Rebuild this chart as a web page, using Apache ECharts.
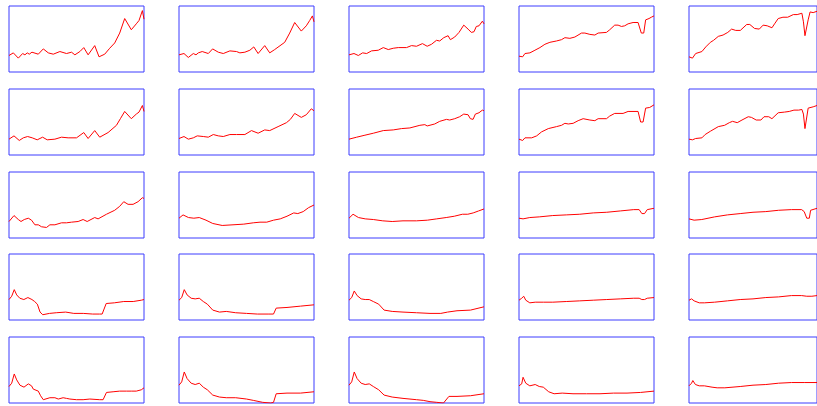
<!DOCTYPE html>
<html><head><meta charset="utf-8">
<script src="https://cdn.jsdelivr.net/npm/echarts@6/dist/echarts.min.js"></script>
<style>html,body{margin:0;padding:0;background:#fff}#c{width:817px;height:406px}</style>
</head><body><div id="c"></div>
<script>
// each series: [t (0..100 along the panel), value (0..100 of panel height)]
const r1c1 = [[0,25],[3.2,29],[6.9,21],[10.1,28],[11.8,26],[13.5,29],[15.0,27],[17.0,30],[21.7,27],[25.4,35],[29.1,29],[32.8,27],[37.7,31],[42.6,28],[46.3,30],[48.8,26],[52.5,31],[55.4,37],[58.6,26],[63.5,40],[66.7,23],[70.9,27],[74.6,36],[78.3,44],[82.0,59],[85.7,81],[90.6,64],[94.3,73],[96.3,78],[98.8,93],[100,80]];
const r1c2 = [[0,26],[3.7,28],[6.9,22],[10.6,28],[12.6,26],[14.3,29],[17.2,31],[21.7,28],[24.9,35],[29.1,30],[32.8,28],[37.7,32],[42.6,31],[45.1,29],[48.8,30],[52.5,33],[55.4,38],[58.6,28],[63.5,40],[67.2,29],[70.9,34],[78.3,45],[82.0,59],[85.7,75],[90.6,62],[94.3,70],[96.8,78],[98.8,85],[100,76]];
const r1c3 = [[0,26],[3.7,28],[6.9,25],[10.1,29],[13.1,28],[16.7,32],[21.7,33],[25.4,37],[29.1,34],[32.8,36],[36.5,37],[42.6,37],[46.3,40],[50.0,39],[54.4,43],[57.9,39],[61.1,42],[64.8,48],[67.2,47],[70.2,52],[73.4,55],[75.1,49],[78.3,53],[81.5,60],[85.0,71],[88.2,65],[90.6,60],[92.6,61],[94.3,69],[96.3,70],[98.8,77],[100,73]];
const r1c4 = [[0,24],[2.7,23],[4.4,28],[8.1,29],[11.8,33],[15.5,37],[19.2,42],[22.9,45],[27.8,47],[31.5,49],[34.0,52],[37.7,51],[41.4,53],[46.3,59],[48.8,59],[52.5,57],[56.2,56],[58.6,59],[64.8,60],[67.2,64],[70.9,71],[73.4,71],[75.9,69],[78.3,70],[80.8,73],[84.5,75],[88.2,75],[89.4,74],[90.6,59],[92.4,59],[93.8,79],[96.3,81],[98.0,83],[100,85]];
const r1c5 = [[0,23],[2.7,21],[5.2,28],[10.1,31],[13.1,38],[16.7,45],[19.2,48],[22.9,54],[26.6,56],[30.3,60],[33.3,65],[36.5,63],[40.1,63],[45.1,72],[47.5,72],[51.2,66],[54.9,65],[57.9,71],[61.1,70],[64.8,67],[67.2,74],[69.7,81],[73.4,83],[77.1,83],[81.5,87],[84.5,87],[88.2,89],[89.4,76],[90.6,55],[91.9,55],[93.1,79],[94.6,91],[97,90],[100,92]];

const r2c1 = [[0,24],[3.7,29],[7.6,22],[10.6,26],[13.8,28],[17.2,26],[20.9,23],[24.9,27],[28.3,23],[34.0,24],[38.9,27],[43.8,26],[50.0,26],[55.4,34],[58.6,25],[63.5,37],[67.2,27],[73.4,34],[79.6,45],[82.5,55],[85.7,66],[90.6,55],[94.3,62],[96.3,65],[98.8,75],[100,66]];
const r2c2 = [[0,25],[3.7,28],[6.9,24],[10.6,26],[13.5,29],[18.0,28],[21.7,27],[25.4,31],[29.1,29],[32.8,28],[37.7,31],[42.6,31],[48.8,31],[53.7,37],[58.6,33],[63.5,38],[67.2,37],[73.4,43],[79.6,49],[82.5,54],[85.7,63],[90.6,57],[94.3,61],[98.0,70],[100,67]];
const r2c3 = [[0,24],[5.7,27],[11.8,30],[18.0,33],[25.4,37],[32.8,38],[38.9,40],[45.1,41],[52.5,45],[56.2,46],[57.9,44],[63.5,47],[67.2,51],[72.2,54],[74.6,53],[78.3,55],[82.0,58],[85.0,62],[88.2,61],[89.9,55],[91.9,54],[93.6,62],[96.3,64],[98.8,68],[100,67]];
const r2c4 = [[0,24],[2.7,22],[4.4,26],[9.4,26],[13.1,29],[16.7,35],[21.7,40],[27.8,43],[31.5,45],[34.0,48],[36.5,47],[40.1,48],[43.8,52],[47.5,55],[52.5,53],[56.2,52],[58.6,55],[64.8,55],[67.2,59],[70.9,63],[77.1,63],[80.8,66],[88.2,66],[90.1,50],[91.9,50],[93.8,71],[96.8,72],[100,76]];
const r2c5 = [[0,24],[2.7,23],[5.2,25],[10.1,26],[12.6,31],[16.7,36],[22.9,43],[27.8,45],[31.5,49],[34.0,51],[37.7,49],[41.4,53],[46.3,58],[48.8,57],[52.5,53],[56.2,53],[58.6,58],[62.3,58],[64.8,55],[69.7,64],[74.6,65],[78.3,66],[82.0,68],[85.7,68],[88.2,69],[89.4,62],[90.6,40],[91.9,40],[93.1,71],[94.6,72],[97,73],[100,75]];

const r3c1 = [[0,25],[3.7,34],[6.9,28],[8.9,25],[11.3,28],[14.3,30],[16.7,27],[19.2,20],[21.7,20],[24.1,17],[27.8,16],[30.3,20],[34.0,20],[38.9,23],[42.6,23],[46.3,24],[51.2,25],[54.9,28],[57.9,25],[63.5,31],[66.0,29],[72.2,36],[78.3,42],[82.0,48],[85.0,55],[88.2,51],[91.9,51],[95.6,55],[98.8,61],[100,60]];
const r3c2 = [[0,30],[3,35],[7,31],[11,30],[15,31],[20,27],[25,22],[32,19],[40,20],[48,21],[55,23],[60,24],[65,24],[70,27],[75,29],[80,33],[85,38],[88,37],[92,40],[96,46],[100,50]];
const r3c3 = [[0,30],[3,36],[7,31],[12,29],[18,28],[25,26],[32,25],[40,26],[50,26],[58,27],[65,29],[72,31],[78,33],[84,36],[88,36],[92,38],[96,41],[100,44]];
const r3c4 = [[0,30],[3,29],[8,31],[15,32],[25,34],[35,35],[45,36],[55,38],[65,39],[75,41],[85,43],[89,43],[91,37],[93,37],[95,43],[100,45]];
const r3c5 = [[0,29],[4,27],[10,28],[20,32],[30,35],[40,37],[50,39],[60,40],[70,42],[80,43],[88,43],[90,40],[92,30],[94,30],[95,42],[100,45]];

const r4c1 = [[0,31],[2,36],[3.9,46],[5.7,38],[8,33],[11,31],[14,34],[17,31],[19,28],[21,24],[23,12],[25,8],[30,10],[35,11],[42,12],[48,10],[55,10],[62,9],[67,9],[69,9],[72,25],[78,26],[85,28],[92,28],[98,30],[100,31]];
const r4c2 = [[0,30],[2,34],[3.9,46],[6,38],[9,33],[12,32],[15,33],[18,28],[21,24],[25,15],[30,12],[35,13],[42,11],[50,10],[58,9],[66,9],[70,9],[72,18],[80,19],[90,21],[100,23]];
const r4c3 = [[0,30],[2,34],[3.9,44],[6,37],[9,32],[12,31],[15,31],[18,28],[22,24],[26,15],[32,13],[40,12],[50,11],[60,10],[68,10],[73,12],[80,14],[90,15],[100,20]];
const r4c4 = [[0,30],[2,33],[3.5,36],[5,30],[8,26],[12,27],[18,27],[25,27],[35,28],[45,29],[55,30],[65,31],[75,32],[85,33],[89,33],[91,31],[93,31],[95,33],[100,34]];
const r4c5 = [[0,30],[2,32],[4,29],[8,26],[12,26],[20,27],[30,29],[40,31],[50,32],[60,34],[70,35],[80,37],[88,37],[92,36],[96,36],[100,37]];

const r5c1 = [[0,25],[2.0,30],[3.9,44],[5.7,35],[8.1,27],[11.1,24],[14.3,29],[16.7,26],[18.0,21],[21.7,18],[23.4,11],[25.4,5],[30.3,8],[34.0,8],[36.5,6],[40.1,8],[42.6,7],[45.1,6],[50.0,5],[54.9,5],[59.9,6],[67.2,5],[69.7,5],[72.2,16],[77.1,17],[82.0,18],[86.9,18],[90.6,18],[94.3,18],[98.0,20],[100,23]];
const r5c2 = [[0,27],[2,32],[3.9,47],[6,37],[9,30],[12,28],[15,30],[18,24],[21,20],[25,12],[30,9],[35,8],[42,8],[50,6],[55,4],[62,1],[68,0],[70,1],[72,14],[80,15],[90,15],[100,17]];
const r5c3 = [[0,27],[2,32],[3.9,47],[6,37],[9,30],[12,28],[15,29],[18,25],[22,20],[26,12],[32,9],[40,7],[50,5],[55,4],[60,2],[65,1],[70,0],[74,10],[80,10],[90,11],[100,14]];
const r5c4 = [[0,26],[2,29],[3,39],[5,30],[8,26],[12,28],[15,25],[18,24],[22,17],[26,14],[32,15],[40,14],[50,14],[60,14],[70,15],[80,15],[90,16],[100,18]];
const r5c5 = [[0,26],[2,30],[3,34],[5,28],[8,26],[12,26],[18,24],[22,23],[28,23],[40,25],[50,27],[60,28],[70,30],[80,31],[90,31],[100,31]];

const panels = [
  [r1c1, r1c2, r1c3, r1c4, r1c5],
  [r2c1, r2c2, r2c3, r2c4, r2c5],
  [r3c1, r3c2, r3c3, r3c4, r3c5],
  [r4c1, r4c2, r4c3, r4c4, r4c5],
  [r5c1, r5c2, r5c3, r5c4, r5c5]
];

const grid = [], xAxis = [], yAxis = [], series = [];
let k = 0;
panels.forEach((row, r) => {
  row.forEach((data, c) => {
    grid.push({left: 9 + c * 170, top: Math.round(6 + r * 82.75), width: 135, height: 66,
      show: true, borderColor: '#3d3dff', borderWidth: 1, backgroundColor: 'transparent'});
    xAxis.push({type: 'value', gridIndex: k, min: 0, max: 100, show: false});
    yAxis.push({type: 'value', gridIndex: k, min: 0, max: 100, show: false});
    series.push({type: 'line', xAxisIndex: k, yAxisIndex: k, data: data, showSymbol: false,
      lineStyle: {color: '#ff0000', width: 1}, silent: true});
    k++;
  });
});

const chart = echarts.init(document.getElementById('c'));
chart.setOption({animation: false, grid, xAxis, yAxis, series});
</script></body></html>
